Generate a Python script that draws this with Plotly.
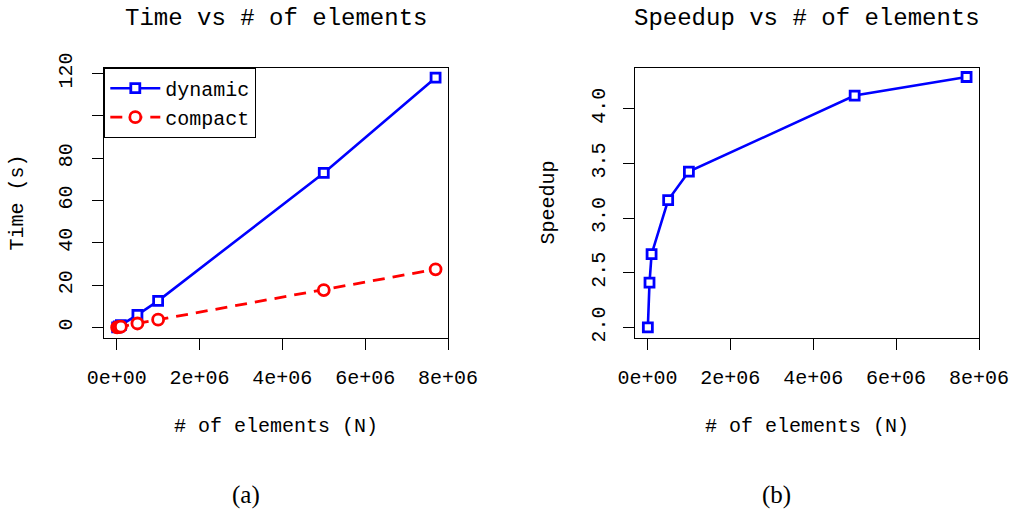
import plotly.graph_objects as go

# ---- data ----
n_elements = [1e4, 5e4, 1e5, 5e5, 1e6, 5e6, 7.7e6]
time_dynamic = [0.08, 0.5, 1.1, 6.0, 12.6, 73.0, 118.0]
time_compact = [0.04, 0.21, 0.41, 1.9, 3.68, 17.7, 27.5]
speedup = [2.0, 2.41, 2.67, 3.165, 3.425, 4.12, 4.29]

x_tickvals = [0, 2e6, 4e6, 6e6, 8e6]
x_ticktext = ["0e+00", "2e+06", "4e+06", "6e+06", "8e+06"]
time_tickvals = [0, 20, 40, 60, 80, 100, 120]
time_ticktext = ["0", "20", "40", "60", "80", "", "120"]
speed_tickvals = [2.0, 2.5, 3.0, 3.5, 4.0]
speed_ticktext = ["2.0", "2.5", "3.0", "3.5", "4.0"]

MONO = "Liberation Mono"
SERIF = "Liberation Serif"
W, H = 1012, 514

fig = go.Figure()

fig.add_trace(go.Scatter(
    x=n_elements, y=time_dynamic, mode="lines+markers", name="dynamic",
    line=dict(color="#0000FF", width=2.6),
    marker=dict(symbol="square", size=9, color="white", line=dict(width=2.8, color="#0000FF")),
    xaxis="x", yaxis="y"))
fig.add_trace(go.Scatter(
    x=n_elements, y=time_compact, mode="lines+markers", name="compact",
    line=dict(color="#FF0000", width=2.8, dash="12px,8px"),
    marker=dict(symbol="circle", size=11, color="white", line=dict(width=2.8, color="#FF0000")),
    xaxis="x", yaxis="y"))
fig.add_trace(go.Scatter(
    x=n_elements, y=speedup, mode="lines+markers", name="speedup", showlegend=False,
    line=dict(color="#0000FF", width=2.6),
    marker=dict(symbol="square", size=9, color="white", line=dict(width=2.8, color="#0000FF")),
    xaxis="x2", yaxis="y2"))

def px_x(p):
    return p / W

def px_y(p):
    return 1 - p / H

box_top, box_bot = 67.7, 337.5
left_l, left_r = 104.3, 448.0
right_l, right_r = 635.0, 979.0

common_axis = dict(
    showline=True, mirror=True, linecolor="black", linewidth=1,
    ticks="outside", ticklen=11, tickwidth=1, tickcolor="black",
    showgrid=False, zeroline=False, automargin=False,
    tickfont=dict(family=MONO, size=20, color="black"),
)

fig.update_layout(
    width=W, height=H, autosize=False,
    margin=dict(l=0, r=0, t=0, b=0),
    paper_bgcolor="white", plot_bgcolor="white",
    xaxis=dict(domain=[px_x(left_l), px_x(left_r)], range=[-0.3e6, 8.0e6],
               tickmode="array", tickvals=x_tickvals, ticktext=x_ticktext,
               anchor="y", ticklabelstandoff=10, **common_axis),
    yaxis=dict(domain=[px_y(box_bot), px_y(box_top)], range=[-4.72, 122.72],
               tickmode="array", tickvals=time_tickvals, ticktext=time_ticktext,
               tickangle=-90, anchor="x", ticklabelstandoff=12, **common_axis),
    xaxis2=dict(domain=[px_x(right_l), px_x(right_r)], range=[-0.3e6, 8.0e6],
                tickmode="array", tickvals=x_tickvals, ticktext=x_ticktext,
                anchor="y2", ticklabelstandoff=10, **common_axis),
    yaxis2=dict(domain=[px_y(box_bot), px_y(box_top)], range=[1.908, 4.375],
                tickmode="array", tickvals=speed_tickvals, ticktext=speed_ticktext,
                tickangle=-90, anchor="x2", ticklabelstandoff=10, **common_axis),
    legend=dict(x=px_x(104.3), y=px_y(67.7), xanchor="left", yanchor="top",
                bordercolor="black", borderwidth=1, bgcolor="white",
                font=dict(family=MONO, size=20, color="black"),
                tracegroupgap=0, itemwidth=50),
    showlegend=True,
)

def ann(text, x, y, size=20, family=MONO, angle=0):
    fig.add_annotation(text=text, x=px_x(x), y=px_y(y), xref="paper", yref="paper",
                       showarrow=False, xanchor="center", yanchor="middle",
                       textangle=angle, font=dict(family=family, size=size, color="black"))

ann("Time vs # of elements", (left_l + left_r) / 2, 19, size=24)
ann("Speedup vs # of elements", (right_l + right_r) / 2, 19, size=24)
ann("# of elements (N)", (left_l + left_r) / 2, 426)
ann("# of elements (N)", (right_l + right_r) / 2, 426)
ann("Time (s)", 18, (box_top + box_bot) / 2, angle=-90)
ann("Speedup", 549, (box_top + box_bot) / 2, angle=-90)
ann("(a)", 246, 495, size=25, family=SERIF)
ann("(b)", 776, 495, size=25, family=SERIF)

fig.write_html("out.html", config={"displayModeBar": False},
               post_script="document.body.style.margin='0px';document.body.style.padding='0px';")
